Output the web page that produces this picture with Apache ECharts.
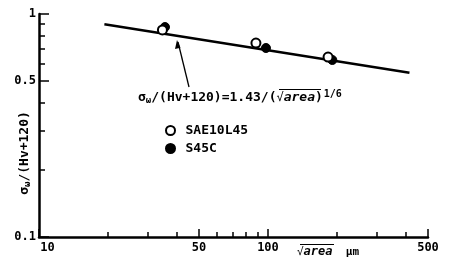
<!DOCTYPE html>
<html>
<head>
<meta charset="utf-8">
<script src="https://cdn.jsdelivr.net/npm/echarts@6/dist/echarts.min.js"></script>
<style>
  html, body { margin: 0; padding: 0; background: #fff; }
  #chart { width: 450px; height: 259px; }
</style>
</head>
<body>
<div id="chart"></div>
<script>
// values
const fitLineX = [19.3, 415];
const fitLineY = [0.90, 0.545];
const saeX = [34.6, 88.6, 183];
const saeY = [0.848, 0.741, 0.641];
const s45cX = [35.5, 98, 191];
const s45cY = [0.874, 0.704, 0.622];

const xTickValues = [10, 20, 30, 40, 50, 60, 70, 80, 90, 100, 200, 300, 400, 500];
const xMajorTicks = [10, 50, 100, 500];
const xLabelValues = [10, 50, 100, 500];
const yTickValues = [0.1, 0.2, 0.3, 0.4, 0.5, 0.6, 0.7, 0.8, 0.9, 1];
const yMajorTicks = [0.1, 0.5, 1];
const yLabelValues = [0.1, 0.5, 1];

const pairs = (xs, ys) => xs.map((x, i) => [x, ys[i]]);
const font = '"DejaVu Sans Mono", monospace';

const chart = echarts.init(document.getElementById('chart'));

const hiddenAxis = {
  axisLine: { show: false },
  axisLabel: { show: false },
  splitLine: { show: false }
};

const option = {
  animation: false,
  backgroundColor: '#fff',
  textStyle: { fontFamily: font, color: '#000' },
  grid: { left: 39, top: 14, right: 22, bottom: 22 },
  legend: {
    orient: 'vertical',
    left: 160,
    top: 119,
    itemGap: 5,
    itemWidth: 10,
    itemHeight: 9,
    data: [{ name: 'SAE10L45', icon: 'circle' }, { name: 'S45C', icon: 'circle' }],
    textStyle: { fontFamily: font, fontSize: 13, fontWeight: 'bold', color: '#000', padding: [0, 0, 0, 5] }
  },
  xAxis: [
    {
      type: 'log', logBase: 10, min: 10, max: 500,
      axisLine: { lineStyle: { color: '#000', width: 2.5 } },
      axisTick: { inside: true, length: 5, customValues: xTickValues, lineStyle: { color: '#000', width: 1.5 } },
      minorTick: { show: false },
      axisLabel: {
        customValues: xLabelValues, fontSize: 12, fontWeight: 'bold', color: '#000', margin: 5,
        formatter: v => (v === 10 ? '{m|10}' : String(v)),
        rich: { m: { fontFamily: font, fontSize: 12, fontWeight: 'bold', color: '#000', padding: [0, 0, 0, 17] } }
      },
      splitLine: { show: false }
    },
    Object.assign({
      type: 'log', logBase: 10, min: 10, max: 500, position: 'bottom',
      axisTick: { inside: true, length: 8, customValues: xMajorTicks, lineStyle: { color: '#000', width: 1.5 } }
    }, hiddenAxis)
  ],
  yAxis: [
    {
      type: 'log', logBase: 10, min: 0.1, max: 1,
      axisLine: { lineStyle: { color: '#000', width: 2.5 } },
      axisTick: { inside: true, length: 6, customValues: yTickValues, lineStyle: { color: '#000', width: 1.5 } },
      minorTick: { show: false },
      axisLabel: {
        customValues: yLabelValues, fontSize: 12, fontWeight: 'bold', color: '#000', margin: 3,
        formatter: v => String(+v.toFixed(2))
      },
      splitLine: { show: false }
    },
    Object.assign({
      type: 'log', logBase: 10, min: 0.1, max: 1, position: 'left',
      axisTick: { inside: true, length: 10, customValues: yMajorTicks, lineStyle: { color: '#000', width: 1.5 } }
    }, hiddenAxis)
  ],
  series: [
    {
      name: 'fit',
      type: 'line',
      data: pairs(fitLineX, fitLineY),
      symbol: 'none',
      lineStyle: { color: '#000', width: 2.5 },
      z: 1
    },
    {
      name: 'S45C',
      type: 'scatter',
      data: pairs(s45cX, s45cY),
      symbol: 'circle',
      symbolSize: 9,
      itemStyle: { color: '#000', borderColor: '#000', borderWidth: 1, opacity: 1 },
      z: 2
    },
    {
      name: 'SAE10L45',
      type: 'scatter',
      data: pairs(saeX, saeY),
      symbol: 'circle',
      symbolSize: 9,
      itemStyle: { color: '#fff', borderColor: '#000', borderWidth: 2, opacity: 1 },
      z: 3
    }
  ],
  graphic: [
    {
      // y axis title
      type: 'text',
      x: 25, y: 153,
      rotation: Math.PI / 2,
      style: {
        text: '{a|σ}{s|ω}{a|/(Hv+120)}',
        align: 'center',
        verticalAlign: 'middle',
        rich: {
          a: { fontFamily: font, fontSize: 13, fontWeight: 'bold', fill: '#000' },
          s: { fontFamily: font, fontSize: 9, fontWeight: 'bold', fill: '#000', padding: [6, 0, 0, 0] }
        }
      }
    },
    {
      // fitted-line formula
      type: 'text',
      x: 138, y: 98,
      style: {
        text: '{a|σ}{s|ω}{a|/(Hv+120)=1.43/(}{r|√}{i|area}{a|)}{p|1/6}',
        verticalAlign: 'middle',
        rich: {
          a: { fontFamily: font, fontSize: 13, fontWeight: 'bold', fill: '#000' },
          s: { fontFamily: font, fontSize: 9, fontWeight: 'bold', fill: '#000', padding: [6, 0, 0, 0] },
          r: { fontFamily: font, fontSize: 12, fill: '#000' },
          i: { fontFamily: font, fontSize: 13, fontWeight: 'bold', fill: '#000', fontStyle: 'italic' },
          p: { fontFamily: font, fontSize: 10, fontWeight: 'bold', fill: '#000', padding: [0, 0, 8, 1] }
        }
      }
    },
    {
      type: 'line',
      shape: { x1: 279, y1: 89.5, x2: 321, y2: 89.5 },
      style: { stroke: '#000', lineWidth: 1.2 }
    },
    {
      type: 'text',
      x: 297, y: 252,
      style: {
        text: '{r|√}{i|area}{a|  μm}',
        verticalAlign: 'middle',
        rich: {
          a: { fontFamily: font, fontSize: 11, fontWeight: 'bold', fill: '#000' },
          r: { fontFamily: font, fontSize: 11, fill: '#000' },
          i: { fontFamily: font, fontSize: 12, fontWeight: 'bold', fill: '#000', fontStyle: 'italic' }
        }
      }
    },
    {
      type: 'line',
      shape: { x1: 300, y1: 244.5, x2: 334, y2: 244.5 },
      style: { stroke: '#000', lineWidth: 1.2 }
    },
    {
      type: 'line',
      shape: { x1: 189, y1: 87, x2: 178, y2: 42 },
      style: { stroke: '#000', lineWidth: 1.3 }
    },
    {
      type: 'polygon',
      shape: { points: [[177, 40], [175, 49], [180.5, 47.8]] },
      style: { fill: '#000' }
    }
  ]
};

chart.setOption(option);
</script>
</body>
</html>
